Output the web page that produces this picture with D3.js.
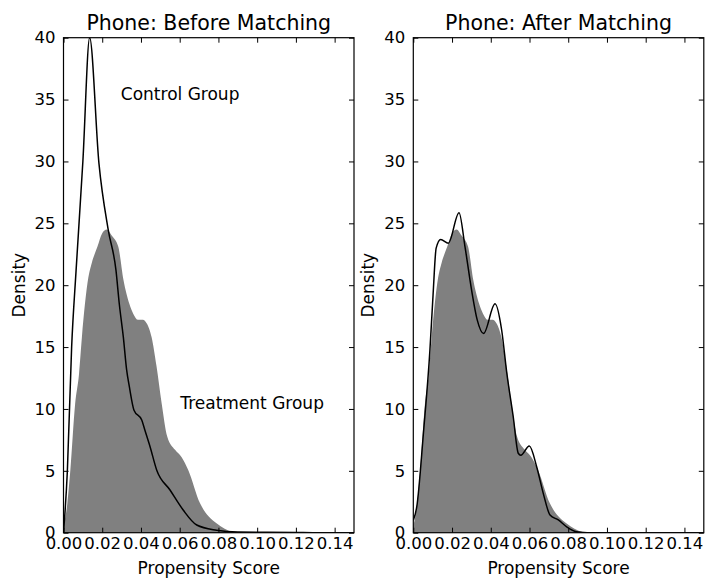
<!DOCTYPE html>
<html lang="en">
<head>
    <meta charset="utf-8">
    <title>Phone: Propensity Score Matching</title>
    <style>
        body { margin: 0; background: #fff; }
        svg text { font-family: "DejaVu Sans", sans-serif; fill: #000; }
        .axis .domain { display: none; }
        .axis line { stroke: #000; stroke-width: 1; }
        .axis text { font-size: 16.5px; }
        .frame { fill: none; stroke: #000; stroke-width: 1.2; }
        .treat { fill: #808080; stroke: none; }
        .ctrl { fill: none; stroke: #000; stroke-width: 1.5; }
    </style>
</head>
<body>
<div id="chart"></div>
<script src="https://d3js.org/d3.v7.min.js"></script>
<script>
    // treatment group density (filled, same in both panels)
    var treatX = [0, 0.002, 0.0035, 0.006, 0.008, 0.0095, 0.0128, 0.0146, 0.0175, 0.020, 0.0223, 0.025, 0.0283,
        0.031, 0.034, 0.036, 0.0385, 0.041, 0.043, 0.0455, 0.048, 0.0507, 0.0536, 0.0576, 0.061, 0.0644,
        0.0705, 0.075, 0.079, 0.0875, 0.095, 0.15];
    var treatY = [0.5, 2.4, 5.0, 10.4, 12.8, 15.8, 20.6, 21.8, 23.1, 24.2, 24.5, 24.0, 23.1,
        20.4, 18.5, 17.7, 17.2, 17.2, 16.9, 15.8, 13.5, 10.45, 7.76, 6.7, 6.1, 5.07,
        2.37, 1.3, 0.76, 0.08, 0.02, 0];

    // control group before matching
    var beforeX = [0, 0.002, 0.0042, 0.0065, 0.010, 0.0135, 0.0183, 0.0231, 0.0271, 0.0288, 0.0309, 0.0326,
        0.034, 0.0364, 0.0404, 0.042, 0.0447, 0.0481, 0.055, 0.0618, 0.0688, 0.079, 0.09, 0.12, 0.13, 0.15];
    var beforeY = [0, 5.0, 15.0, 21.2, 30.0, 40.0, 29.85, 24.47, 21.2, 18.5, 15.8, 13.15,
        11.8, 9.9, 9.1, 8.3, 6.95, 5.07, 3.45, 1.83, 0.62, 0.2, 0.05, 0.02, 0, 0];

    // control group after matching
    var afterX = [0, 0.0018, 0.0052, 0.0086, 0.0102, 0.0118, 0.01415, 0.0181, 0.0236, 0.0267, 0.0301, 0.033,
        0.0363, 0.0422, 0.0456, 0.0482, 0.0516, 0.0542, 0.0555, 0.0599, 0.0637, 0.0671, 0.0706, 0.0749,
        0.0792, 0.0843, 0.09, 0.15];
    var afterY = [1.0, 2.1, 8.0, 14.8, 19.2, 23.0, 23.7, 23.4, 25.86, 23.1, 19.6, 17.2,
        16.1, 18.5, 16.4, 13.0, 9.37, 6.42, 6.25, 7.0, 5.33, 3.18, 1.43, 1.03,
        0.48, 0.08, 0, 0];

    var xTicks = [0, 0.02, 0.04, 0.06, 0.08, 0.10, 0.12, 0.14];
    var yTicks = [0, 5, 10, 15, 20, 25, 30, 35, 40];

    var panels = [
        {title: "Phone: Before Matching", left: 63.5, ctrlX: beforeX, ctrlY: beforeY,
            notes: [{text: "Control Group", x: 0.0296, y: 35.0}, {text: "Treatment Group", x: 0.0603, y: 9.97}]},
        {title: "Phone: After Matching", left: 413.3, ctrlX: afterX, ctrlY: afterY, notes: []}
    ];

    var width = 706, height = 579, plotW = 290.5, plotTop = 37.7, plotBottom = 532.7;

    var svg = d3.select("#chart").append("svg").attr("width", width).attr("height", height);

    panels.forEach(function (p, i) {
        var x = d3.scaleLinear().domain([0, 0.15]).range([p.left, p.left + plotW]);
        var y = d3.scaleLinear().domain([0, 40]).range([plotBottom, plotTop]);
        var g = svg.append("g");

        g.append("clipPath").attr("id", "clip" + i).append("rect")
            .attr("x", p.left).attr("y", plotTop).attr("width", plotW).attr("height", plotBottom - plotTop);

        var treat = treatX.map(function (v, j) { return [v, treatY[j]]; });
        var ctrl = p.ctrlX.map(function (v, j) { return [v, p.ctrlY[j]]; });

        g.append("path").attr("class", "treat").attr("clip-path", "url(#clip" + i + ")")
            .attr("d", d3.area().curve(d3.curveMonotoneX)
                .x(function (d) { return x(d[0]); })
                .y0(y(0)).y1(function (d) { return y(d[1]); })(treat));

        g.append("path").attr("class", "ctrl").attr("clip-path", "url(#clip" + i + ")")
            .attr("d", d3.line().curve(d3.curveMonotoneX)
                .x(function (d) { return x(d[0]); })
                .y(function (d) { return y(d[1]); })(ctrl));

        g.append("g").attr("class", "axis").attr("transform", "translate(0," + plotBottom + ")")
            .call(d3.axisBottom(x).tickValues(xTicks).tickFormat(d3.format(".2f")).tickSizeInner(-5).tickSizeOuter(0).tickPadding(5));
        g.append("g").attr("class", "axis").attr("transform", "translate(0," + plotTop + ")")
            .call(d3.axisTop(x).tickValues(xTicks).tickFormat("").tickSizeInner(-5).tickSizeOuter(0));
        g.append("g").attr("class", "axis").attr("transform", "translate(" + p.left + ",0)")
            .call(d3.axisLeft(y).tickValues(yTicks).tickSizeInner(-5).tickSizeOuter(0).tickPadding(8));
        g.append("g").attr("class", "axis").attr("transform", "translate(" + (p.left + plotW) + ",0)")
            .call(d3.axisRight(y).tickValues(yTicks).tickFormat("").tickSizeInner(-5).tickSizeOuter(0));

        g.append("rect").attr("class", "frame")
            .attr("x", p.left).attr("y", plotTop).attr("width", plotW).attr("height", plotBottom - plotTop);

        g.append("text").attr("x", p.left + plotW / 2).attr("y", 29.5)
            .attr("text-anchor", "middle").style("font-size", "20.5px").text(p.title);

        g.append("text").attr("x", p.left + plotW / 2).attr("y", 574)
            .attr("text-anchor", "middle").style("font-size", "17px").text("Propensity Score");

        g.append("text").attr("transform", "translate(" + (p.left - 39) + "," + ((plotTop + plotBottom) / 2) + ") rotate(-90)")
            .attr("text-anchor", "middle").style("font-size", "17px").text("Density");

        p.notes.forEach(function (n) {
            g.append("text").attr("x", x(n.x)).attr("y", y(n.y))
                .style("font-size", "17px").text(n.text);
        });
    });
</script>
</body>
</html>
